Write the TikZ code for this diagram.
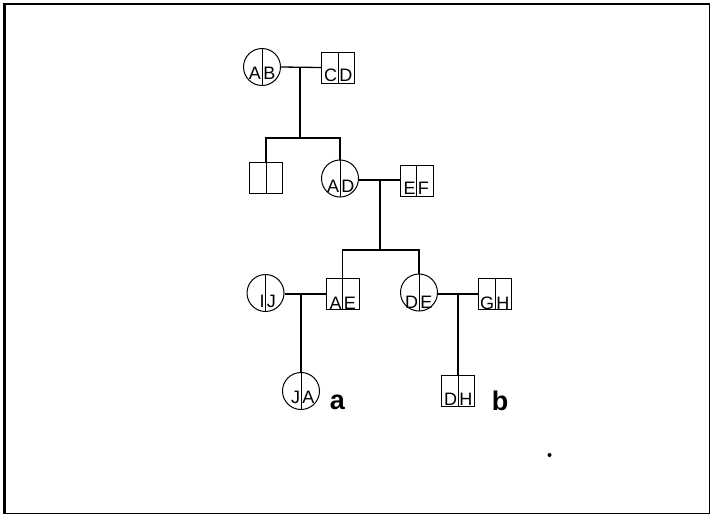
\documentclass[tikz,border=0pt]{standalone}
\usepackage{fontspec}
\setmainfont{Liberation Sans}
\newcommand\gp[3]{\raisebox{-#3pt}[0pt][0pt]{\makebox[0pt][r]{#1\kern1pt}\makebox[0pt][l]{\kern1.5pt#2}}}
\begin{document}
\begin{tikzpicture}[x=1pt,y=-1pt,
  pers/.style={draw, line width=1pt, inner sep=0pt, font=\fontsize{18}{18}\selectfont,
    path picture={\draw[line width=1pt] (path picture bounding box.north) -- (path picture bounding box.south);}},
  fem/.style={pers, circle, minimum size=37pt},
  male/.style={pers, rectangle, minimum width=33pt, minimum height=31pt},
  conn/.style={line width=1.3pt},
  tag/.style={font=\fontsize{27}{27}\selectfont\bfseries, inner sep=0pt, anchor=base}]
\useasboundingbox (0,0) rectangle (711,515);
% frame
\draw[line width=1.3pt] (4,4) rectangle (709.5,513.5);
\draw[line width=2.6pt] (4.3,3.4) -- (4.3,514.2);
% generation I
\node[fem]  (AB) at (262,67)    {\gp{A}{B}{12}};
\node[male] (CD) at (338,67.5)  {\gp{C}{D}{13.5}};
% generation II
\node[male] (X)  at (266,177.5) {};
\node[fem]  (AD) at (340,178.5) {\gp{A}{D}{13.5}};
\node[male] (EF) at (416.5,181) {\gp{E}{F}{13}};
% generation III
\node[fem]  (IJ) at (265.5,293) {\gp{I}{J}{14}};
\node[male] (AE) at (342.5,294) {\gp{A}{E}{15}};
\node[fem]  (DE) at (419,292.5) {\gp{D}{E}{15.5}};
\node[male] (GH) at (495,294)   {\gp{G}{H}{15}};
% generation IV
\node[fem]  (JA) at (301,391)   {\gp{J}{A}{12}};
\node[male] (DH) at (458,391)   {\gp{D}{H}{14}};
\node[tag]  (la) at (337.5,409) {a};
\node[tag]  (lb) at (500,410)   {b};
% junction points
\coordinate (m1) at (300,67);
\coordinate (s1) at (300,138);
\coordinate (m2) at (380,180);
\coordinate (s2) at (380,250);
\coordinate (m3) at (301,294);
\coordinate (m4) at (458,294);
% connectors
\draw[conn] (AB.east) -- (CD.west);
\draw[conn] (m1) -- (s1);
\draw[conn] (X.north) |- (s1) -| (AD.north);
\draw[conn] (AD.east |- m2) -- (EF.west |- m2);
\draw[conn] (m2) -- (s2);
\draw[conn] (AE.north) |- (s2) -| (DE.north);
\draw[conn] (IJ.east |- m3) -- (AE.west |- m3);
\draw[conn] (m3) -- (JA.north);
\draw[conn] (DE.east |- m4) -- (GH.west |- m4);
\draw[conn] (m4) -- (DH.north);
% speck
\fill (549.5,455) circle (2);
\end{tikzpicture}
\end{document}
